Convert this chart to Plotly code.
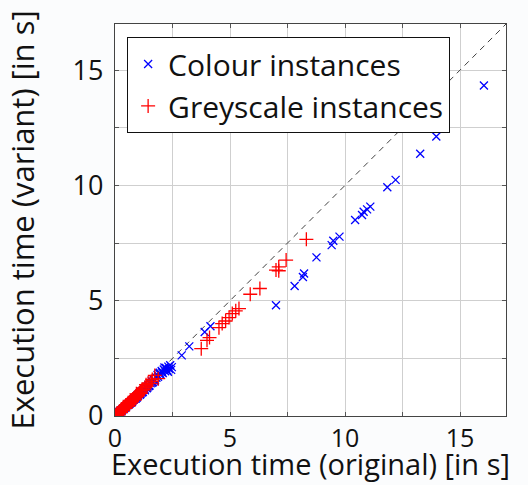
import plotly.graph_objects as go

# ---- data (seconds) ----
colour_x = [16.04, 13.97, 13.27, 12.20, 11.84, 11.10, 10.96, 10.81, 10.74, 10.44,
            9.76, 9.49, 9.42, 8.76, 8.22, 8.17, 7.81, 7.00, 4.15, 3.90, 3.23, 2.90,
            2.47, 2.40, 2.35, 2.32, 2.28, 2.22, 2.18, 2.12, 2.08, 2.03, 1.98, 1.92,
            1.87, 1.80, 1.74, 1.68, 1.62, 1.55, 1.50, 1.45, 1.40, 1.35, 1.30, 1.26,
            1.21, 1.15, 1.10, 1.05, 1.00, 0.96, 0.92, 0.88, 0.84, 0.80, 0.76, 0.72,
            0.68, 0.64, 0.60, 0.56, 0.52, 0.48, 0.45, 0.42, 0.38, 0.35, 0.31, 0.28,
            0.25, 0.22, 0.19, 0.16, 0.13, 0.10, 0.07, 0.05, 0.62, 0.74, 0.95, 1.12,
            2.44, 2.30, 2.15, 2.05, 1.95, 1.85, 1.72, 1.60, 1.48, 1.38, 1.28, 1.18,
            1.08, 0.98, 0.90, 0.82, 0.70, 0.58, 0.46, 0.36, 0.26, 0.18, 1.65, 1.42]
colour_y = [14.33, 12.12, 11.37, 10.24, 9.92, 9.08, 8.96, 8.86, 8.72, 8.50,
            7.78, 7.60, 7.41, 6.88, 6.18, 6.03, 5.64, 4.80, 3.89, 3.64, 3.02, 2.63,
            2.12, 2.20, 2.05, 2.14, 1.98, 2.08, 1.94, 2.02, 1.86, 1.95, 1.80, 1.84,
            1.70, 1.66, 1.55, 1.58, 1.44, 1.42, 1.32, 1.35, 1.22, 1.25, 1.12, 1.16,
            1.05, 1.06, 0.95, 0.97, 0.88, 0.86, 0.82, 0.76, 0.77, 0.70, 0.68, 0.62,
            0.61, 0.55, 0.54, 0.48, 0.47, 0.41, 0.40, 0.36, 0.34, 0.30, 0.28, 0.24,
            0.23, 0.19, 0.18, 0.14, 0.12, 0.09, 0.07, 0.04, 0.52, 0.62, 0.80, 0.98,
            2.00, 1.92, 2.10, 1.90, 1.88, 1.78, 1.52, 1.50, 1.30, 1.20, 1.18, 1.02,
            0.92, 0.90, 0.76, 0.72, 0.58, 0.50, 0.38, 0.30, 0.20, 0.13, 1.48, 1.28]

grey_x = [8.32, 7.44, 7.12, 7.00, 7.12, 6.30, 5.88, 5.39, 5.25, 5.10, 4.96, 4.81,
          4.66, 4.52, 4.11, 4.00, 3.75, 1.88, 1.73, 1.62, 1.52, 1.44, 1.38, 1.30,
          1.22, 1.15, 1.10, 1.06, 1.02, 0.98, 0.95, 0.91, 0.88, 0.85, 0.82, 0.79,
          0.76, 0.73, 0.70, 0.67, 0.64, 0.61, 0.58, 0.55, 0.52, 0.49, 0.46, 0.43,
          0.40, 0.37, 0.34, 0.31, 0.28, 0.25, 0.22, 0.19, 0.16, 0.13, 0.10, 0.07,
          0.05, 0.90, 0.80, 0.70, 0.60, 0.50, 0.40, 0.30, 0.20, 1.00, 0.84, 0.66,
          1.12, 0.96, 0.86, 0.74, 0.63, 0.54, 0.44, 0.34, 0.24, 0.15, 0.08, 1.58,
          1.35, 1.20, 0.93, 0.78, 0.57, 0.47, 0.36, 0.27]
grey_y = [7.66, 6.76, 6.47, 6.33, 6.30, 5.53, 5.28, 4.66, 4.56, 4.44, 4.27, 4.12,
          4.01, 3.83, 3.40, 3.28, 2.92, 1.62, 1.76, 1.58, 1.40, 1.43, 1.30, 1.24,
          1.16, 1.10, 1.02, 1.00, 0.95, 0.93, 0.88, 0.86, 0.82, 0.80, 0.76, 0.74,
          0.71, 0.68, 0.66, 0.62, 0.60, 0.57, 0.54, 0.52, 0.49, 0.46, 0.43, 0.41,
          0.38, 0.35, 0.32, 0.30, 0.26, 0.24, 0.21, 0.18, 0.15, 0.12, 0.10, 0.07,
          0.05, 0.80, 0.72, 0.62, 0.55, 0.44, 0.36, 0.27, 0.17, 0.90, 0.78, 0.60,
          0.98, 0.84, 0.70, 0.62, 0.50, 0.42, 0.33, 0.24, 0.16, 0.09, 0.03, 1.50,
          1.36, 1.14, 0.96, 0.74, 0.58, 0.48, 0.40, 0.29]

diag_line = [0, 17]
tick_vals = [0, 5, 10, 15]
tick_text = ["0", "5", "10", "15"]
x_title = "Execution time (original) [in s]"
y_title = "Execution time (variant) [in s]"

FONT = "Open Sans"
W, H = 528, 485
M = dict(l=115, r=22, t=24, b=69)
plot_h = H - M["t"] - M["b"]

fig = go.Figure()
fig.add_trace(go.Scatter(
    x=diag_line, y=diag_line, mode="lines", showlegend=False, hoverinfo="skip",
    line=dict(color="#404040", width=1, dash="6px,5px")))
fig.add_trace(go.Scatter(
    x=colour_x, y=colour_y, mode="markers", name="Colour instances",
    marker=dict(symbol="x-thin", size=8, color="#0000ff",
                line=dict(color="#0000ff", width=1.3))))
fig.add_trace(go.Scatter(
    x=grey_x, y=grey_y, mode="markers", name="Greyscale instances",
    marker=dict(symbol="cross-thin", size=10, color="#ff0000",
                line=dict(color="#ff0000", width=1.3))))

axis_common = dict(
    range=[0, 17], tickvals=tick_vals, ticktext=tick_text, automargin=False,
    showgrid=True, gridcolor="#cfcfcf", gridwidth=1,
    minor=dict(dtick=2.5, tick0=0, showgrid=True, gridcolor="#cfcfcf",
               ticks="inside", ticklen=4, tickcolor="#555555"),
    ticks="inside", ticklen=4, tickcolor="#555555",
    showline=True, linecolor="#444444", linewidth=1.2, mirror="allticks",
    zeroline=False,
)

fig.update_xaxes(**axis_common, ticklabelstandoff=0,
                 tickfont=dict(family=FONT, size=25, color="#111111"))
fig.update_yaxes(**axis_common, ticklabelstandoff=5,
                 tickfont=dict(family=FONT, size=27, color="#111111"),
                 title=dict(text=y_title, font=dict(family=FONT, size=31, color="#111111"),
                            standoff=28))

# x-axis title as annotation, sitting on the bottom edge
fig.add_annotation(
    text=x_title, xref="paper", yref="paper", x=0.5, xanchor="center",
    y=-M["b"] / plot_h, yanchor="bottom", showarrow=False,
    font=dict(family=FONT, size=29, color="#111111"))

fig.update_layout(
    width=W, height=H,
    margin=M,
    paper_bgcolor="#fbfcfd", plot_bgcolor="#ffffff",
    font=dict(family=FONT, color="#111111"),
    legend=dict(x=0.031, y=0.967, xanchor="left", yanchor="top",
                bgcolor="#ffffff", bordercolor="#111111", borderwidth=1,
                font=dict(family=FONT, size=30, color="#111111"),
                itemwidth=30, tracegroupgap=0),
)

fig.write_html("out.html")
